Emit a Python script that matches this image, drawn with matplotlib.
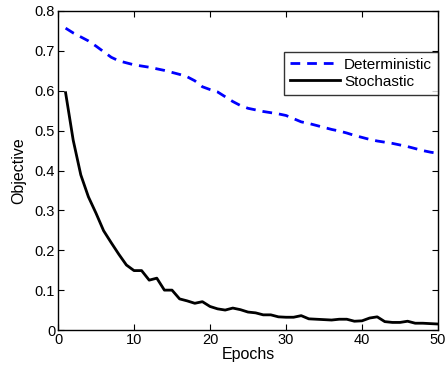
import matplotlib
matplotlib.use("Agg")
import matplotlib.pyplot as plt
import numpy as np

epochs = list(range(1, 51))
deterministic = [0.757, 0.745, 0.735, 0.725, 0.712, 0.698, 0.684, 0.675, 0.670, 0.665,
                 0.662, 0.659, 0.655, 0.651, 0.646, 0.641, 0.635, 0.625, 0.610, 0.603,
                 0.597, 0.585, 0.573, 0.563, 0.556, 0.552, 0.548, 0.545, 0.542, 0.538,
                 0.530, 0.522, 0.518, 0.513, 0.508, 0.503, 0.499, 0.494, 0.488, 0.483,
                 0.478, 0.474, 0.471, 0.468, 0.464, 0.460, 0.455, 0.450, 0.446, 0.443]
stochastic = [0.595, 0.476, 0.389, 0.334, 0.293, 0.249, 0.219, 0.190, 0.163, 0.149,
              0.149, 0.125, 0.130, 0.100, 0.100, 0.078, 0.073, 0.067, 0.071, 0.059,
              0.053, 0.050, 0.055, 0.051, 0.045, 0.043, 0.038, 0.038, 0.033, 0.032,
              0.032, 0.036, 0.028, 0.027, 0.026, 0.025, 0.027, 0.027, 0.022, 0.023,
              0.030, 0.033, 0.021, 0.019, 0.019, 0.022, 0.017, 0.017, 0.016, 0.015]
xticks = [0, 10, 20, 30, 40, 50]
yticks = [0, 0.1, 0.2, 0.3, 0.4, 0.5, 0.6, 0.7, 0.8]
ytick_labels = ["0", "0.1", "0.2", "0.3", "0.4", "0.5", "0.6", "0.7", "0.8"]

plt.rcParams['font.family'] = ['Liberation Sans', 'DejaVu Sans']
fig = plt.figure(figsize=(4.48, 3.73), dpi=100)
ax = fig.add_axes([58/448, 1 - 330/373, 380/448, 319/373])

ax.plot(epochs, deterministic, color='#0000ff', linestyle=(0, (3.5, 2.5)), linewidth=2, label='Deterministic')
ax.plot(epochs, stochastic, color='black', linewidth=2, label='Stochastic')

ax.set_xlim(0, 50)
ax.set_ylim(0, 0.8)
ax.set_xticks(xticks)
ax.set_xticklabels([str(t) for t in xticks])
ax.set_yticks(yticks)
ax.set_yticklabels(ytick_labels)
ax.tick_params(direction='in', top=True, right=True, labelsize=10.5, length=4, width=0.8, pad=2)
for s in ax.spines.values():
    s.set_linewidth(1.0)
ax.set_xlabel('Epochs', fontsize=11.5, labelpad=0)
ax.set_ylabel('Objective', fontsize=11.5, labelpad=6)

leg = ax.legend(loc='upper right', bbox_to_anchor=(1.0, 0.873), borderaxespad=0,
                fontsize=11, frameon=True, fancybox=False, handlelength=3.3,
                handletextpad=0.25, borderpad=0.4, labelspacing=0.2, edgecolor='black')
leg.get_frame().set_linewidth(1.0)

fig.savefig('out.png', dpi=100)
